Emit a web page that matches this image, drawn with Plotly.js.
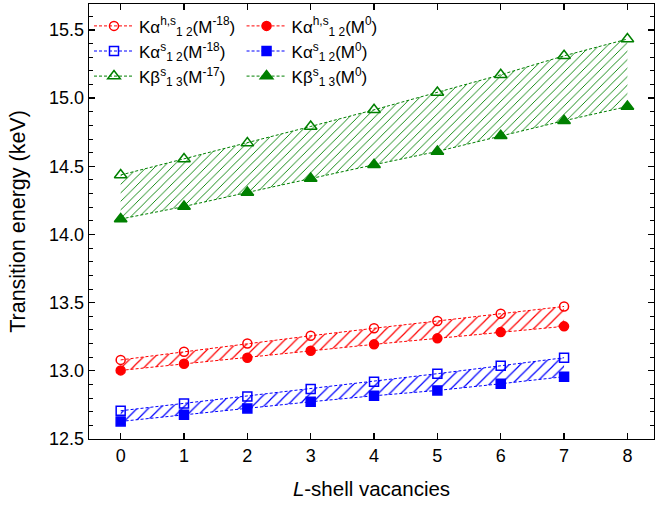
<!DOCTYPE html>
<html><head><meta charset="utf-8">
<script src="https://cdn.plot.ly/plotly-3.0.1.min.js"></script>
<style>html,body{margin:0;padding:0;background:#fff}#chart{width:656px;height:509px}</style>
</head><body><div id="chart"></div>
<script>
// Data
const vacKa = [0, 1, 2, 3, 4, 5, 6, 7];
const vacKb = [0, 1, 2, 3, 4, 5, 6, 7, 8];
const kaHS_M18 = [13.080, 13.140, 13.200, 13.257, 13.312, 13.365, 13.419, 13.472];
const kaHS_M0  = [13.003, 13.052, 13.096, 13.147, 13.194, 13.238, 13.284, 13.326];
const kaS_M18  = [12.707, 12.761, 12.812, 12.866, 12.920, 12.979, 13.037, 13.096];
const kaS_M0   = [12.629, 12.678, 12.724, 12.773, 12.817, 12.856, 12.905, 12.957];
const kbS_M17  = [14.436, 14.553, 14.670, 14.792, 14.914, 15.041, 15.171, 15.310, 15.433];
const kbS_M0   = [14.113, 14.205, 14.308, 14.411, 14.511, 14.609, 14.724, 14.834, 14.938];

const names = {
  kaHS_M18: 'Kα<sup>h,s</sup><sub>1 2</sub>(M<sup>-18</sup>)',
  kaHS_M0:  'Kα<sup>h,s</sup><sub>1 2</sub>(M<sup>0</sup>)',
  kaS_M18:  'Kα<sup>s</sup><sub>1 2</sub>(M<sup>-18</sup>)',
  kaS_M0:   'Kα<sup>s</sup><sub>1 2</sub>(M<sup>0</sup>)',
  kbS_M17:  'Kβ<sup>s</sup><sub>1 3</sub>(M<sup>-17</sup>)',
  kbS_M0:   'Kβ<sup>s</sup><sub>1 3</sub>(M<sup>0</sup>)'
};

const RED = '#ff0000', BLUE = '#0000ff', GREEN = '#008000';

function band(x, lo, hi, color, size) {
  return [
    {x: x, y: lo, mode: 'lines', line: {width: 0, color: color}, showlegend: false, hoverinfo: 'skip'},
    {x: x, y: hi, mode: 'lines', line: {width: 0, color: color}, showlegend: false, hoverinfo: 'skip',
     fill: 'tonexty', fillcolor: 'rgba(0,0,0,0)',
     fillpattern: {shape: '/', fgcolor: color, bgcolor: 'rgba(0,0,0,0)', size: size, solidity: 0.15}}
  ];
}

function series(x, y, color, symbol, name, legend, group) {
  return {x: x, y: y, mode: 'lines+markers', name: name, legend: legend, legendgroup: group,
    line: {color: color, width: 1, dash: '3px,2px'},
    marker: {symbol: symbol, size: symbol.indexOf('triangle') === 0 ? 11 : 9, color: color,
             line: {color: color, width: 1.5}}};
}

const traces = [].concat(
  band(vacKa, kaHS_M0, kaHS_M18, RED, 8),
  band(vacKa, kaS_M0, kaS_M18, BLUE, 8),
  band(vacKb, kbS_M0, kbS_M17, GREEN, 6),
  [
    series(vacKa, kaHS_M18, RED, 'circle-open', names.kaHS_M18, 'legend', 'g1'),
    series(vacKa, kaS_M18, BLUE, 'square-open', names.kaS_M18, 'legend', 'g2'),
    series(vacKb, kbS_M17, GREEN, 'triangle-up-open', names.kbS_M17, 'legend', 'g3'),
    series(vacKa, kaHS_M0, RED, 'circle', names.kaHS_M0, 'legend2', 'g4'),
    series(vacKa, kaS_M0, BLUE, 'square', names.kaS_M0, 'legend2', 'g5'),
    series(vacKb, kbS_M0, GREEN, 'triangle-up', names.kbS_M0, 'legend2', 'g6')
  ]
);

const axisCommon = {
  showline: true, linecolor: '#000', linewidth: 1.3, mirror: 'ticks',
  ticks: 'inside', ticklen: 6, tickwidth: 1.2, tickcolor: '#000',
  showgrid: false, zeroline: false,
  tickfont: {family: 'Liberation Sans, Arial, sans-serif', size: 18, color: '#000'}
};

const legendCommon = {
  orientation: 'v', bgcolor: 'rgba(0,0,0,0)', borderwidth: 0, traceorder: 'normal',
  font: {family: 'Liberation Sans, Arial, sans-serif', size: 17, color: '#000'},
  xanchor: 'left', yanchor: 'top', tracegroupgap: 8, itemwidth: 40
};

const layout = {
  width: 656, height: 509,
  margin: {l: 89, r: 2, t: 4, b: 70},
  paper_bgcolor: '#fff', plot_bgcolor: '#fff',
  font: {family: 'Liberation Sans, Arial, sans-serif', color: '#000'},
  xaxis: Object.assign({}, axisCommon, {
    range: [-0.5, 8.42], dtick: 1, tick0: 0,
    title: {text: '<i>L</i>-shell vacancies', font: {size: 20.5}, standoff: 16}
  }),
  yaxis: Object.assign({}, axisCommon, {
    range: [12.5, 15.69], dtick: 0.5, tick0: 12.5, tickformat: '.1f',
    minor: {dtick: 0.1, ticks: 'inside', ticklen: 4, tickcolor: '#000', tickwidth: 1},
    title: {text: 'Transition energy (keV)', font: {size: 21.5}, standoff: 17}
  }),
  legend: Object.assign({}, legendCommon, {x: 0.0, y: 0.99}),
  legend2: Object.assign({}, legendCommon, {x: 0.27, y: 0.99}),
  showlegend: true
};

Plotly.newPlot('chart', traces, layout, {displayModeBar: false, staticPlot: true});
</script>
</body></html>
